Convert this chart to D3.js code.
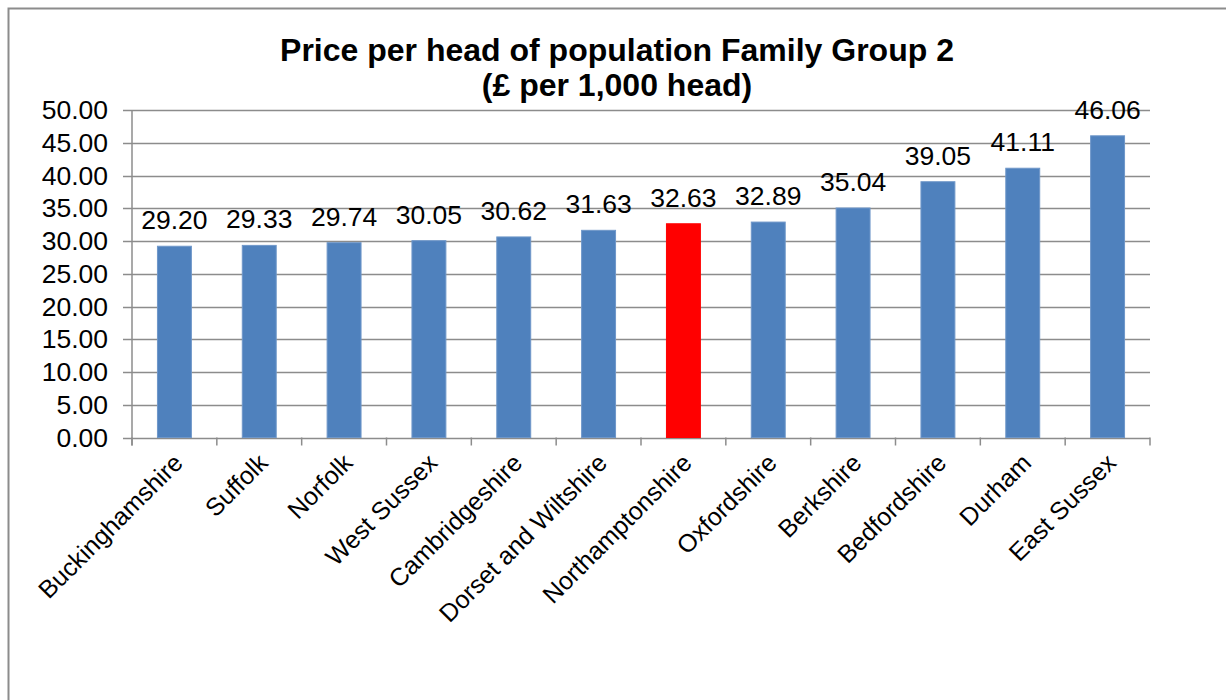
<!DOCTYPE html>
<html>
<head>
<meta charset="utf-8">
<script src="https://cdn.jsdelivr.net/npm/d3@7"></script>
<style>
  body { margin: 0; background: #fff; }
  text { font-family: "Liberation Sans", Arial, sans-serif; fill: #000; }
</style>
</head>
<body>
<div id="chartContainer"></div>
<script>
// Chart data
var counties = ['Buckinghamshire', 'Suffolk', 'Norfolk', 'West Sussex', 'Cambridgeshire',
  'Dorset and Wiltshire', 'Northamptonshire', 'Oxfordshire', 'Berkshire', 'Bedfordshire',
  'Durham', 'East Sussex'];
var prices = [29.20, 29.33, 29.74, 30.05, 30.62, 31.63, 32.63, 32.89, 35.04, 39.05, 41.11, 46.06];
var highlighted = ['Northamptonshire'];
var yTicks = [0, 5, 10, 15, 20, 25, 30, 35, 40, 45, 50];
var titleLines = ['Price per head of population Family Group 2', '(£ per 1,000 head)'];

var width = 1226, height = 700;
var svg = d3.select('#chartContainer').append('svg')
  .attr('width', width)
  .attr('height', height);

// Outer chart border (runs off the right and bottom of the page)
svg.append('rect')
  .attr('x', 8.5).attr('y', 8.5)
  .attr('width', 1240).attr('height', 720)
  .style('fill', 'none')
  .style('stroke', '#8c8c8c')
  .style('stroke-width', 2);

// Plot area bounds
var plotLeft = 132, plotRight = 1150, plotTop = 110, plotBottom = 437.5;

var x = d3.scaleBand().domain(counties).range([plotLeft, plotRight]).paddingInner(0.6).paddingOuter(0.3);
var xOuter = d3.scaleBand().domain(counties).range([plotLeft, plotRight]);
var y = d3.scaleLinear().domain([0, 50]).range([plotBottom, plotTop]);

// Title
svg.append('g').selectAll('text')
  .data(titleLines)
  .enter()
  .append('text')
  .attr('x', 617)
  .attr('y', function(d, i) { return 61 + i * 35; })
  .attr('text-anchor', 'middle')
  .style('font-size', '32px')
  .style('font-weight', 'bold')
  .text(function(d) { return d; });

// Gridlines
svg.append('g').selectAll('line')
  .data(yTicks)
  .enter()
  .append('line')
  .attr('x1', plotLeft - 9).attr('x2', plotRight)
  .attr('y1', function(d) { return Math.round(y(d)) + 0.5; })
  .attr('y2', function(d) { return Math.round(y(d)) + 0.5; })
  .style('stroke', '#8c8c8c')
  .style('stroke-width', 1.5);

// Y axis line
svg.append('line')
  .attr('x1', plotLeft).attr('x2', plotLeft)
  .attr('y1', plotTop).attr('y2', plotBottom + 8)
  .style('stroke', '#8c8c8c')
  .style('stroke-width', 1.5);

// Y tick labels
svg.append('g').selectAll('text')
  .data(yTicks)
  .enter()
  .append('text')
  .attr('x', 108)
  .attr('y', function(d) { return y(d) + 9; })
  .attr('text-anchor', 'end')
  .style('font-size', '26.5px')
  .text(function(d) { return d3.format('.2f')(d); });

// Category tick marks at band boundaries
var bounds = counties.map(function(c) { return xOuter(c); }).concat([plotRight]);
svg.append('g').selectAll('line')
  .data(bounds)
  .enter()
  .append('line')
  .attr('x1', function(d) { return d; })
  .attr('x2', function(d) { return d; })
  .attr('y1', plotBottom).attr('y2', plotBottom + 8)
  .style('stroke', '#8c8c8c')
  .style('stroke-width', 1.5);

// Bars
svg.append('g').selectAll('rect')
  .data(counties)
  .enter()
  .append('rect')
  .attr('x', function(d) { return x(d); })
  .attr('width', x.bandwidth())
  .attr('y', function(d, i) { return y(prices[i]); })
  .attr('height', function(d, i) { return plotBottom - y(prices[i]); })
  .style('fill', function(d) { return highlighted.indexOf(d) >= 0 ? '#ff0000' : '#4f81bd'; })
  .style('stroke', function(d) { return highlighted.indexOf(d) >= 0 ? '#ff0000' : '#6f97c9'; })
  .style('stroke-width', 1);

// Value labels
svg.append('g').selectAll('text')
  .data(counties)
  .enter()
  .append('text')
  .attr('x', function(d) { return x(d) + x.bandwidth() / 2; })
  .attr('y', function(d, i) { return y(prices[i]) - 17; })
  .attr('text-anchor', 'middle')
  .style('font-size', '26.5px')
  .text(function(d, i) { return d3.format('.2f')(prices[i]); });

// Category labels, rotated
svg.append('g').selectAll('text')
  .data(counties)
  .enter()
  .append('text')
  .attr('text-anchor', 'end')
  .attr('transform', function(d) {
    var cx = xOuter(d) + xOuter.bandwidth() / 2 + 10;
    return 'translate(' + cx + ',' + (plotBottom + 27) + ') rotate(-45)';
  })
  .style('font-size', '25px')
  .text(function(d) { return d; });
</script>
</body>
</html>
